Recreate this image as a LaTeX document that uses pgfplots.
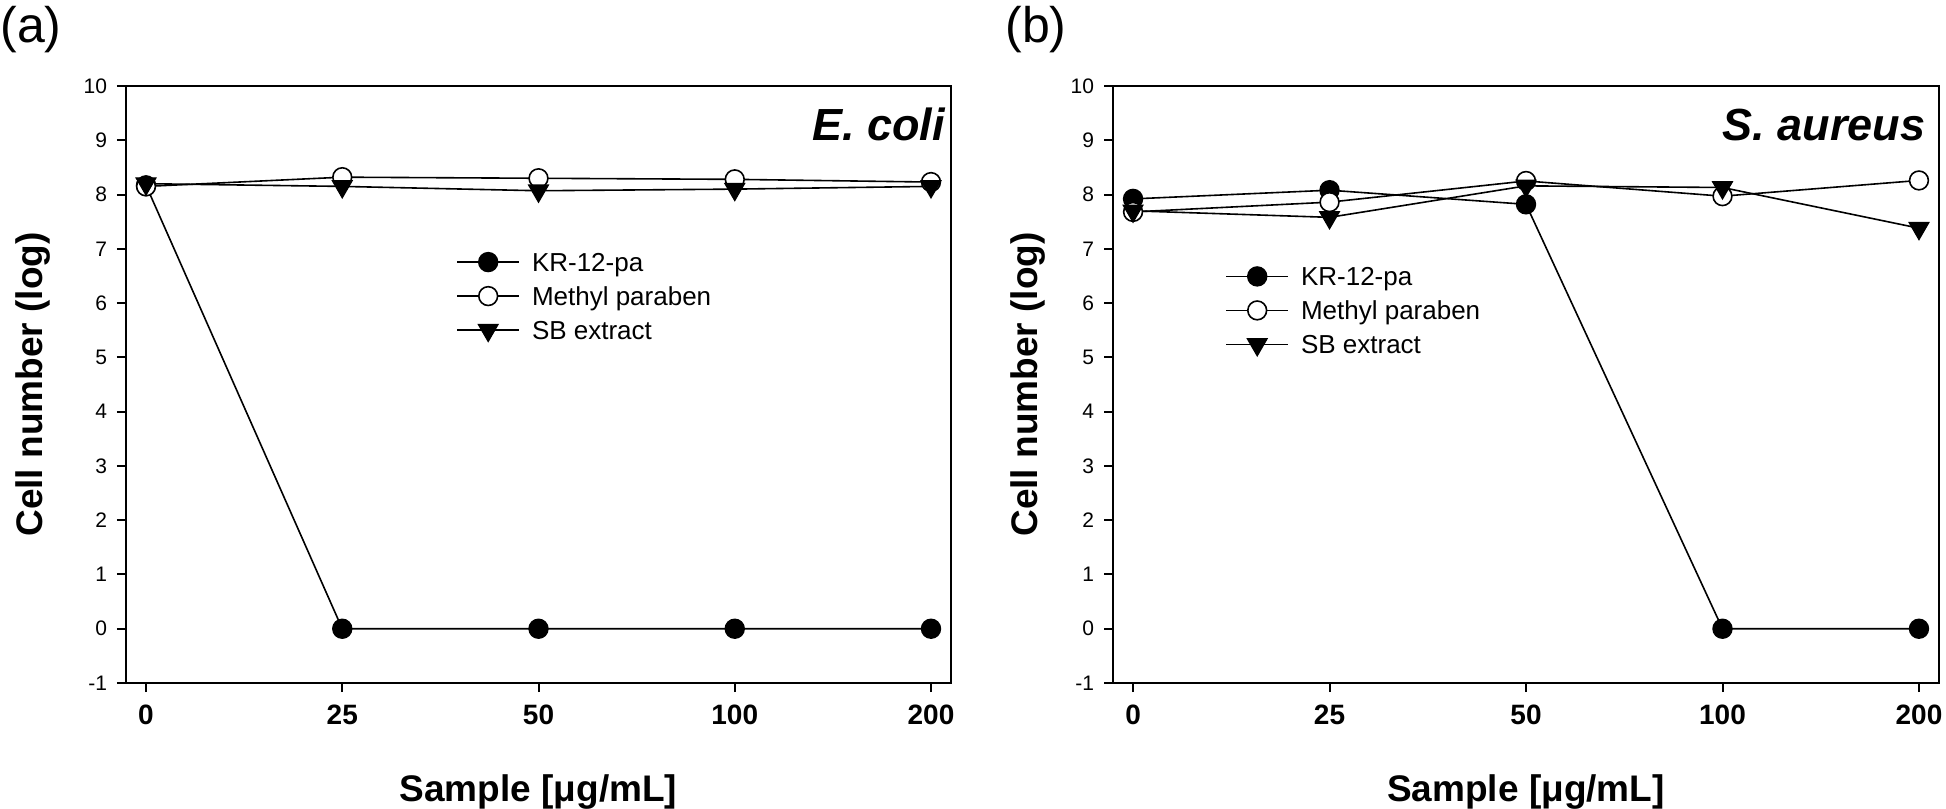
\documentclass[border=0pt]{standalone}
\usepackage{fontspec}
\setmainfont{Liberation Sans}
\usepackage{pgfplots}
\pgfplotsset{compat=1.18}
\pgfplotstableread{
x KR MP SB
0 8.17 8.15 8.20
1 0 8.32 8.15
2 0 8.30 8.07
3 0 8.28 8.10
4 0 8.23 8.15
}\ecoli
\pgfplotstableread{
x KR MP SB
0 7.92 7.68 7.70
1 8.08 7.86 7.58
2 7.82 8.25 8.16
3 0 7.97 8.13
4 0 8.26 7.38
}\saureus
\begin{document}
\begin{tikzpicture}
\useasboundingbox (0,0) rectangle (973pt,-404pt);
\pgfplotsset{
  panel/.style={
    scale only axis, height=298.5pt,
    xmin=-0.102, xmax=4.102, ymin=-1, ymax=10,
    xtick={0,1,2,3,4}, xticklabels={0,25,50,100,200},
    ytick={-1,0,1,2,3,4,5,6,7,8,9,10},
    tick align=outside, xtick pos=left, ytick pos=left,
    axis line style={line width=1pt},
    every tick/.style={black, line width=1pt},
    major tick length=4.5pt,
    /pgf/number format/assume math mode=true,
    yticklabel style={font=\fontsize{10.5}{12}\selectfont, xshift=-1.5pt},
    xticklabel style={font=\bfseries\fontsize{14}{16}\selectfont, yshift=-3pt},
    label style={font=\bfseries\fontsize{18.5}{22}\selectfont},
    xlabel style={at={(rel axis cs:0.5,-0.1977)}, anchor=base},
    clip=false,
    legend cell align=left,
    legend style={draw=none, fill=none, anchor=north west, inner sep=0pt,
      font=\fontsize{13}{15}\selectfont,
      nodes={inner sep=2pt, text height=11pt, text depth=2pt},
      row sep=0pt, column sep=4pt},
    legend image code/.code={\draw[mark repeat=2,mark phase=2] plot coordinates {(0pt,0pt) (15.5pt,0pt) (31pt,0pt)};},
  },
  kr/.style={black, line width=0.8pt, mark=*, mark size=4.7pt, mark options={solid, fill=black, line width=0.8pt}},
  mp/.style={black, line width=0.8pt, mark=*, mark size=4.7pt, mark options={solid, fill=white, line width=0.8pt}},
  sb/.style={black, line width=0.8pt, mark=triangle*, mark size=5.7pt, mark options={solid, fill=black, rotate=180, line width=0.6pt}},
}
\begin{axis}[panel, at={(63pt,-43pt)}, anchor=north west, width=412.5pt,
  xlabel={Sample [μg/mL]}, ylabel={Cell number (log)},
  ylabel style={at={(rel axis cs:-0.1121,0.5)}, anchor=center, rotate=0},
  legend style={at={(rel axis cs:0.4,0.7342)}}]
\addplot[kr] table[x=x, y=KR] {\ecoli};
\addlegendentry{KR-12-pa}
\addplot[mp] table[x=x, y=MP] {\ecoli};
\addlegendentry{Methyl paraben}
\addplot[sb] table[x=x, y=SB] {\ecoli};
\addlegendentry{SB extract}
\node[anchor=base east, inner sep=0pt, font=\bfseries\itshape\fontsize{22.5}{27}\selectfont] at (rel axis cs:0.993,0.9079) {E. coli};
\end{axis}
\begin{axis}[panel, at={(556.5pt,-43pt)}, anchor=north west, width=413pt,
  xlabel={Sample [μg/mL]}, ylabel={Cell number (log)},
  ylabel style={at={(rel axis cs:-0.1029,0.5)}, anchor=center, rotate=0},
  legend style={at={(rel axis cs:0.1356,0.7102)}}]
\addplot[kr] table[x=x, y=KR] {\saureus};
\addlegendentry{KR-12-pa}
\addplot[mp] table[x=x, y=MP] {\saureus};
\addlegendentry{Methyl paraben}
\addplot[sb] table[x=x, y=SB] {\saureus};
\addlegendentry{SB extract}
\node[anchor=base east, inner sep=0pt, font=\bfseries\itshape\fontsize{22.5}{27}\selectfont] at (rel axis cs:0.984,0.9079) {S. aureus};
\end{axis}
\node[anchor=base west, inner sep=0pt, font=\fontsize{25}{30}\selectfont] at (0pt,-21.5pt) {(a)};
\node[anchor=base west, inner sep=0pt, font=\fontsize{25}{30}\selectfont] at (502.5pt,-21.5pt) {(b)};
\end{tikzpicture}
\end{document}
